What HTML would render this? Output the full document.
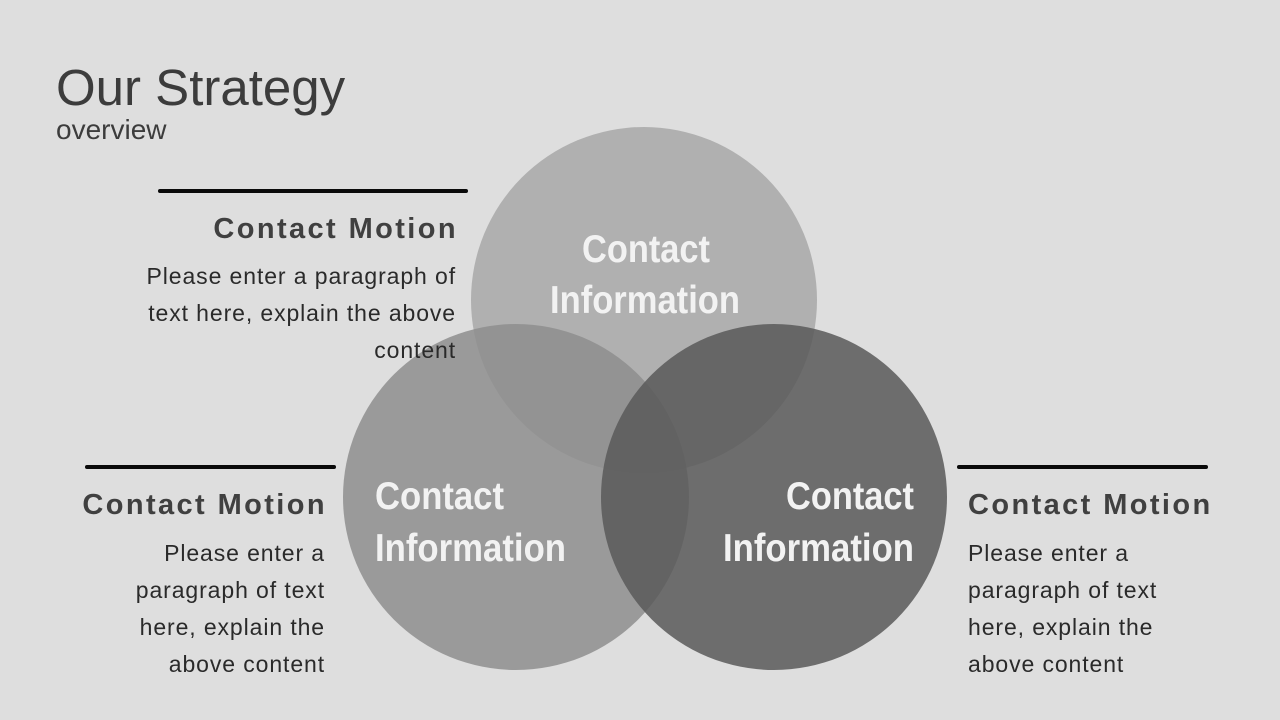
<!DOCTYPE html>
<html><head><meta charset="utf-8"><style>
html,body{margin:0;padding:0}
body{width:1280px;height:720px;background:#dedede;position:relative;overflow:hidden;font-family:"Liberation Sans",sans-serif}
.t{position:absolute;white-space:nowrap}
.h{font-weight:bold;font-size:29px;letter-spacing:2.4px;color:#404040}
.p{font-size:23px;line-height:37px;color:#2a2a2a;letter-spacing:0.9px}
.line{position:absolute;height:4px;background:#0a0a0a;border-radius:2px}
</style></head><body>
<div class="t" style="left:56px;top:58px;font-size:51px;color:#3c3c3c">Our Strategy</div>
<div class="t" style="left:56px;top:114px;font-size:28px;color:#3c3c3c">overview</div>

<svg width="1280" height="720" style="position:absolute;left:0;top:0">
<circle cx="644" cy="300" r="173" fill="#b0b0b0"/>
<circle cx="516" cy="497" r="173" fill="#8e8e8e" fill-opacity="0.85"/>
<circle cx="774" cy="497" r="173" fill="#595959" fill-opacity="0.85"/>
<g font-family="'Liberation Sans',sans-serif" font-weight="bold" font-size="39" fill="#f2f2f2" lengthAdjust="spacingAndGlyphs">
<text x="582" y="262" textLength="128" lengthAdjust="spacingAndGlyphs">Contact</text>
<text x="550" y="313" textLength="190" lengthAdjust="spacingAndGlyphs">Information</text>
<text x="375" y="509" textLength="129" lengthAdjust="spacingAndGlyphs">Contact</text>
<text x="375" y="561" textLength="191" lengthAdjust="spacingAndGlyphs">Information</text>
<text x="786" y="509" textLength="128" lengthAdjust="spacingAndGlyphs">Contact</text>
<text x="723" y="561" textLength="191" lengthAdjust="spacingAndGlyphs">Information</text>
</g>
</svg>

<div class="line" style="left:158px;top:189px;width:310px"></div>
<div class="line" style="left:85px;top:465px;width:251px"></div>
<div class="line" style="left:957px;top:465px;width:251px"></div>

<div class="t h" style="right:822px;top:213px">Contact Motion</div>
<div class="t p" style="right:824px;top:258px;text-align:right">Please enter a paragraph of<br>text here, explain the above<br>content</div>

<div class="t h" style="right:953px;top:489px">Contact Motion</div>
<div class="t p" style="right:955px;top:535px;text-align:right">Please enter a<br>paragraph of text<br>here, explain the<br>above content</div>

<div class="t h" style="left:968px;top:489px">Contact Motion</div>
<div class="t p" style="left:968px;top:535px">Please enter a<br>paragraph of text<br>here, explain the<br>above content</div>
</body></html>
